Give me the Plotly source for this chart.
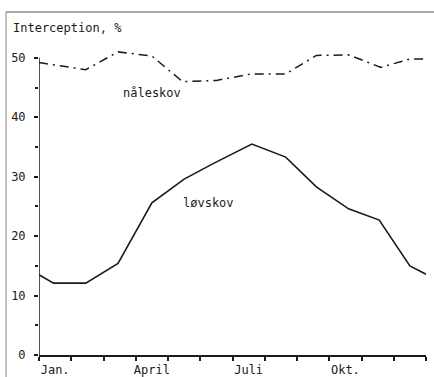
import plotly.graph_objects as go

# Data (month index 0..12 along x axis)
month_labels = ["Jan.", "April", "Juli", "Okt."]
month_label_pos = [0.5, 3.5, 6.5, 9.5]
month_ticks = list(range(13))

naale_x = [0, 1.45, 2.45, 3.5, 4.45, 5.5, 6.6, 7.65, 8.6, 9.6, 10.6, 11.5, 12]
naale_y = [49.2, 48.0, 51.0, 50.3, 46.0, 46.2, 47.3, 47.3, 50.4, 50.5, 48.4, 49.8, 49.8]

loev_x = [0, 0.45, 1.45, 2.45, 3.5, 4.5, 5.4, 6.6, 7.65, 8.6, 9.6, 10.55, 11.5, 12]
loev_y = [13.5, 12.1, 12.1, 15.4, 25.6, 29.6, 32.2, 35.5, 33.3, 28.3, 24.6, 22.7, 15.0, 13.6]

y_ticks = [0, 10, 20, 30, 40, 50]
y_minor = [5, 15, 25, 35, 45]

FONT = "DejaVu Sans Mono"
INK = "#1a1a1a"

fig = go.Figure()
fig.add_trace(go.Scatter(x=naale_x, y=naale_y, mode="lines",
                         line=dict(color=INK, width=1.5, dash="9px,5px,2px,5px"),
                         showlegend=False, hoverinfo="skip"))
fig.add_trace(go.Scatter(x=loev_x, y=loev_y, mode="lines",
                         line=dict(color=INK, width=1.6),
                         showlegend=False, hoverinfo="skip"))

fig.update_layout(
    width=434, height=377,
    margin=dict(l=39, r=8, t=40, b=22),
    paper_bgcolor="white", plot_bgcolor="white",
    font=dict(family=FONT, size=12, color=INK),
    xaxis=dict(range=[0, 12], showgrid=False, zeroline=False, automargin=False,
               showline=True, linecolor=INK, linewidth=1.5,
               tickvals=month_label_pos, ticktext=month_labels, ticks="",
               ticklabelstandoff=3,
               tickfont=dict(family=FONT, size=12, color=INK),
               minor=dict(tickvals=month_ticks, ticks="outside", ticklen=4,
                          tickcolor=INK, tickwidth=1.5),
               fixedrange=True),
    yaxis=dict(range=[0, 53], showgrid=False, zeroline=False, showline=False,
               automargin=False,
               tickvals=y_ticks, ticks="outside", ticklen=4, tickcolor=INK,
               tickwidth=1.5, ticklabelstandoff=6,
               tickfont=dict(family=FONT, size=12, color=INK),
               minor=dict(tickvals=y_minor, ticks="outside", ticklen=3,
                          tickcolor=INK, tickwidth=1.5),
               fixedrange=True),
)

# y axis line only from 0 to 50
fig.add_shape(type="line", xref="x", yref="y", x0=0, x1=0, y0=0, y1=y_ticks[-1],
              line=dict(color=INK, width=1.5), layer="above")

# Frame (top and left border)
fig.add_shape(type="line", xref="paper", yref="paper",
              x0=-33/387, x1=1 + 8/387, y0=(355 - 12) / 315, y1=(355 - 12) / 315,
              line=dict(color="#555555", width=1.2))
fig.add_shape(type="line", xref="paper", yref="paper",
              x0=-33/387, x1=-33/387, y0=(355 - 12) / 315, y1=-22/315,
              line=dict(color="#888888", width=1))

fig.add_annotation(text="Interception, %", xref="paper", yref="paper",
                   x=-28/387, y=(355 - 28) / 315, xanchor="left", yanchor="middle",
                   showarrow=False, font=dict(family=FONT, size=12, color=INK))
fig.add_annotation(text="nåleskov", x=3.5, y=44.0, showarrow=False,
                   font=dict(family=FONT, size=12, color=INK))
fig.add_annotation(text="løvskov", x=5.27, y=25.5, showarrow=False,
                   font=dict(family=FONT, size=12, color=INK))

fig.write_html("out.html")
